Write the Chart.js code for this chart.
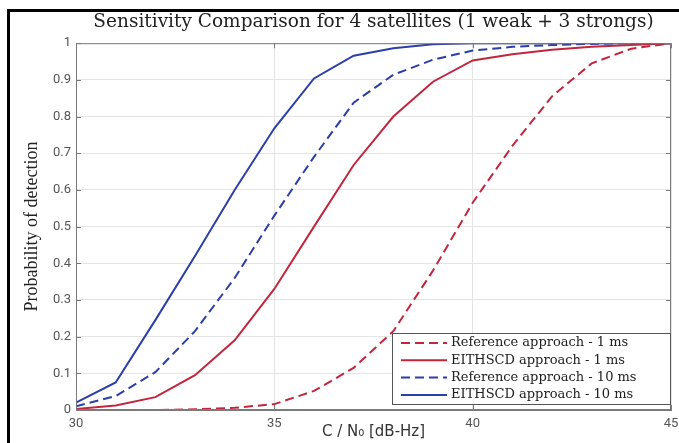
<!DOCTYPE html>
<html>
<head>
<meta charset="utf-8">
<script src="https://cdn.jsdelivr.net/npm/chart.js@4.4.1/dist/chart.umd.min.js"></script>
<style>
    html, body { margin: 0; padding: 0; background: #fff; }
    #wrap { position: relative; width: 679px; height: 443px; overflow: hidden; }
    #marco { position: absolute; left: 7px; top: 9px; width: 700px; height: 460px;
             border-top: 3px solid #000; border-left: 3px solid #000; }
    #grafica { position: absolute; left: 0; top: 0; }
</style>
</head>
<body>
<div id="wrap">
    <div id="marco"></div>
    <canvas id="grafica" width="679" height="443"></canvas>
</div>
<script>
// Datos
const cn0 = [30, 31, 32, 33, 34, 35, 36, 37, 38, 39, 40, 41, 42, 43, 44, 45];
const refUnMs = [0, 0, 0, 0.002, 0.006, 0.016, 0.052, 0.115, 0.215, 0.38, 0.565, 0.72, 0.855, 0.945, 0.985, 1];
const eithUnMs = [0.003, 0.012, 0.035, 0.095, 0.19, 0.33, 0.5, 0.668, 0.8, 0.895, 0.953, 0.97, 0.982, 0.99, 0.995, 1];
const refDiezMs = [0.01, 0.038, 0.103, 0.215, 0.36, 0.53, 0.69, 0.838, 0.914, 0.955, 0.98, 0.99, 0.995, 0.998, 1, 1];
const eithDiezMs = [0.02, 0.075, 0.245, 0.42, 0.6, 0.768, 0.904, 0.966, 0.986, 0.997, 1, 1, 1, 1, 1, 1];

const etiquetas = ['Reference approach - 1 ms', 'EITHSCD approach - 1 ms',
                   'Reference approach - 10 ms', 'EITHSCD approach - 10 ms'];
const ticksX = [30, 35, 40, 45];
const ticksY = [0, 0.1, 0.2, 0.3, 0.4, 0.5, 0.6, 0.7, 0.8, 0.9, 1];

const ROJO = '#c3253d';
const AZUL = '#2b3ea9';
const GUIONES = [9, 5];

function serie(valores) {
    return valores.map((v, i) => ({ x: cn0[i], y: v }));
}

// Caja gris con marcas hacia dentro (estilo MATLAB)
const cajaEjes = {
    id: 'cajaEjes',
    afterDatasetsDraw(chart) {
        const { ctx, chartArea: a, scales } = chart;
        ctx.save();
        ctx.strokeStyle = '#7a7a7a';
        ctx.lineWidth = 1;
        ctx.strokeRect(a.left + 0.5, a.top + 0.5, a.right - a.left - 1, a.bottom - a.top - 1);
        ctx.beginPath();
        ticksY.forEach(v => {
            const y = Math.round(scales.y.getPixelForValue(v)) + 0.5;
            ctx.moveTo(a.left, y); ctx.lineTo(a.left + 5, y);
            ctx.moveTo(a.right, y); ctx.lineTo(a.right - 5, y);
        });
        ticksX.forEach(v => {
            const x = Math.round(scales.x.getPixelForValue(v)) + 0.5;
            ctx.moveTo(x, a.top); ctx.lineTo(x, a.top + 5);
            ctx.moveTo(x, a.bottom); ctx.lineTo(x, a.bottom - 5);
        });
        ctx.stroke();
        ctx.restore();
    }
};

// Leyenda dentro del área, abajo a la derecha
const leyenda = {
    id: 'leyenda',
    afterDraw(chart) {
        const { ctx, chartArea: a } = chart;
        const ancho = 279, alto = 72;
        const x0 = a.right - ancho, y0 = a.bottom - alto - 5;
        ctx.save();
        ctx.fillStyle = '#fff';
        ctx.fillRect(x0, y0, ancho, alto);
        ctx.strokeStyle = '#555';
        ctx.lineWidth = 1;
        ctx.strokeRect(x0 + 0.5, y0 + 0.5, ancho - 1, alto - 1);
        ctx.font = '13px "DejaVu Serif"';
        ctx.textBaseline = 'middle';
        chart.data.datasets.forEach((ds, i) => {
            const y = y0 + 10 + i * 17.3;
            ctx.strokeStyle = ds.borderColor;
            ctx.lineWidth = 2;
            ctx.setLineDash(ds.borderDash || []);
            ctx.beginPath();
            ctx.moveTo(x0 + 9, y); ctx.lineTo(x0 + 55, y);
            ctx.stroke();
            ctx.setLineDash([]);
            ctx.fillStyle = '#222';
            ctx.fillText(ds.label, x0 + 59, y);
        });
        ctx.restore();
    }
};

const ctx = document.getElementById('grafica').getContext('2d');
new Chart(ctx, {
    type: 'line',
    data: {
        datasets: [
            { label: etiquetas[0], data: serie(refUnMs), borderColor: ROJO, borderDash: GUIONES },
            { label: etiquetas[1], data: serie(eithUnMs), borderColor: ROJO },
            { label: etiquetas[2], data: serie(refDiezMs), borderColor: AZUL, borderDash: GUIONES },
            { label: etiquetas[3], data: serie(eithDiezMs), borderColor: AZUL }
        ]
    },
    options: {
        responsive: false,
        animation: false,
        events: [],
        elements: {
            line: { borderWidth: 2, tension: 0, fill: false },
            point: { radius: 0 }
        },
        layout: { padding: { left: 12, right: 8, top: 0, bottom: 0 } },
        plugins: {
            legend: { display: false },
            tooltip: { enabled: false },
            title: {
                display: true,
                fullSize: false,
                text: 'Sensitivity Comparison for 4 satellites (1 weak + 3 strongs)',
                color: '#222',
                font: { family: '"DejaVu Serif"', size: 18.5, weight: 'normal' },
                padding: { top: 11, bottom: 10 }
            }
        },
        scales: {
            x: {
                type: 'linear',
                min: 30,
                max: 45,
                afterBuildTicks: s => { s.ticks = ticksX.map(v => ({ value: v })); },
                afterFit: s => { s.height = 33; s.paddingLeft = 0; s.paddingRight = 0; },
                ticks: { color: '#555', font: { family: 'Roboto', size: 13 }, padding: 6, maxRotation: 0 },
                grid: { color: '#e4e4e4', drawTicks: false },
                border: { color: '#7a7a7a' },
                title: {
                    display: true,
                    text: 'C / N₀ [dB-Hz]',
                    color: '#333',
                    font: { family: '"DejaVu Sans"', size: 15 },
                    padding: { top: 0, bottom: 2 }
                }
            },
            y: {
                min: 0,
                max: 1,
                afterBuildTicks: s => { s.ticks = ticksY.map(v => ({ value: v })); },
                afterFit: s => { s.width = 64; },
                ticks: {
                    color: '#555',
                    font: { family: 'Roboto', size: 13 },
                    padding: 5,
                    callback: v => String(Number(v.toFixed(2)))
                },
                grid: { color: '#e4e4e4', drawTicks: false },
                border: { color: '#7a7a7a' },
                title: {
                    display: true,
                    text: 'Probability of detection',
                    color: '#222',
                    font: { family: '"Liberation Serif"', size: 18 },
                    padding: { top: 9, bottom: 0 }
                }
            }
        }
    },
    plugins: [cajaEjes, leyenda]
});
</script>
</body>
</html>
